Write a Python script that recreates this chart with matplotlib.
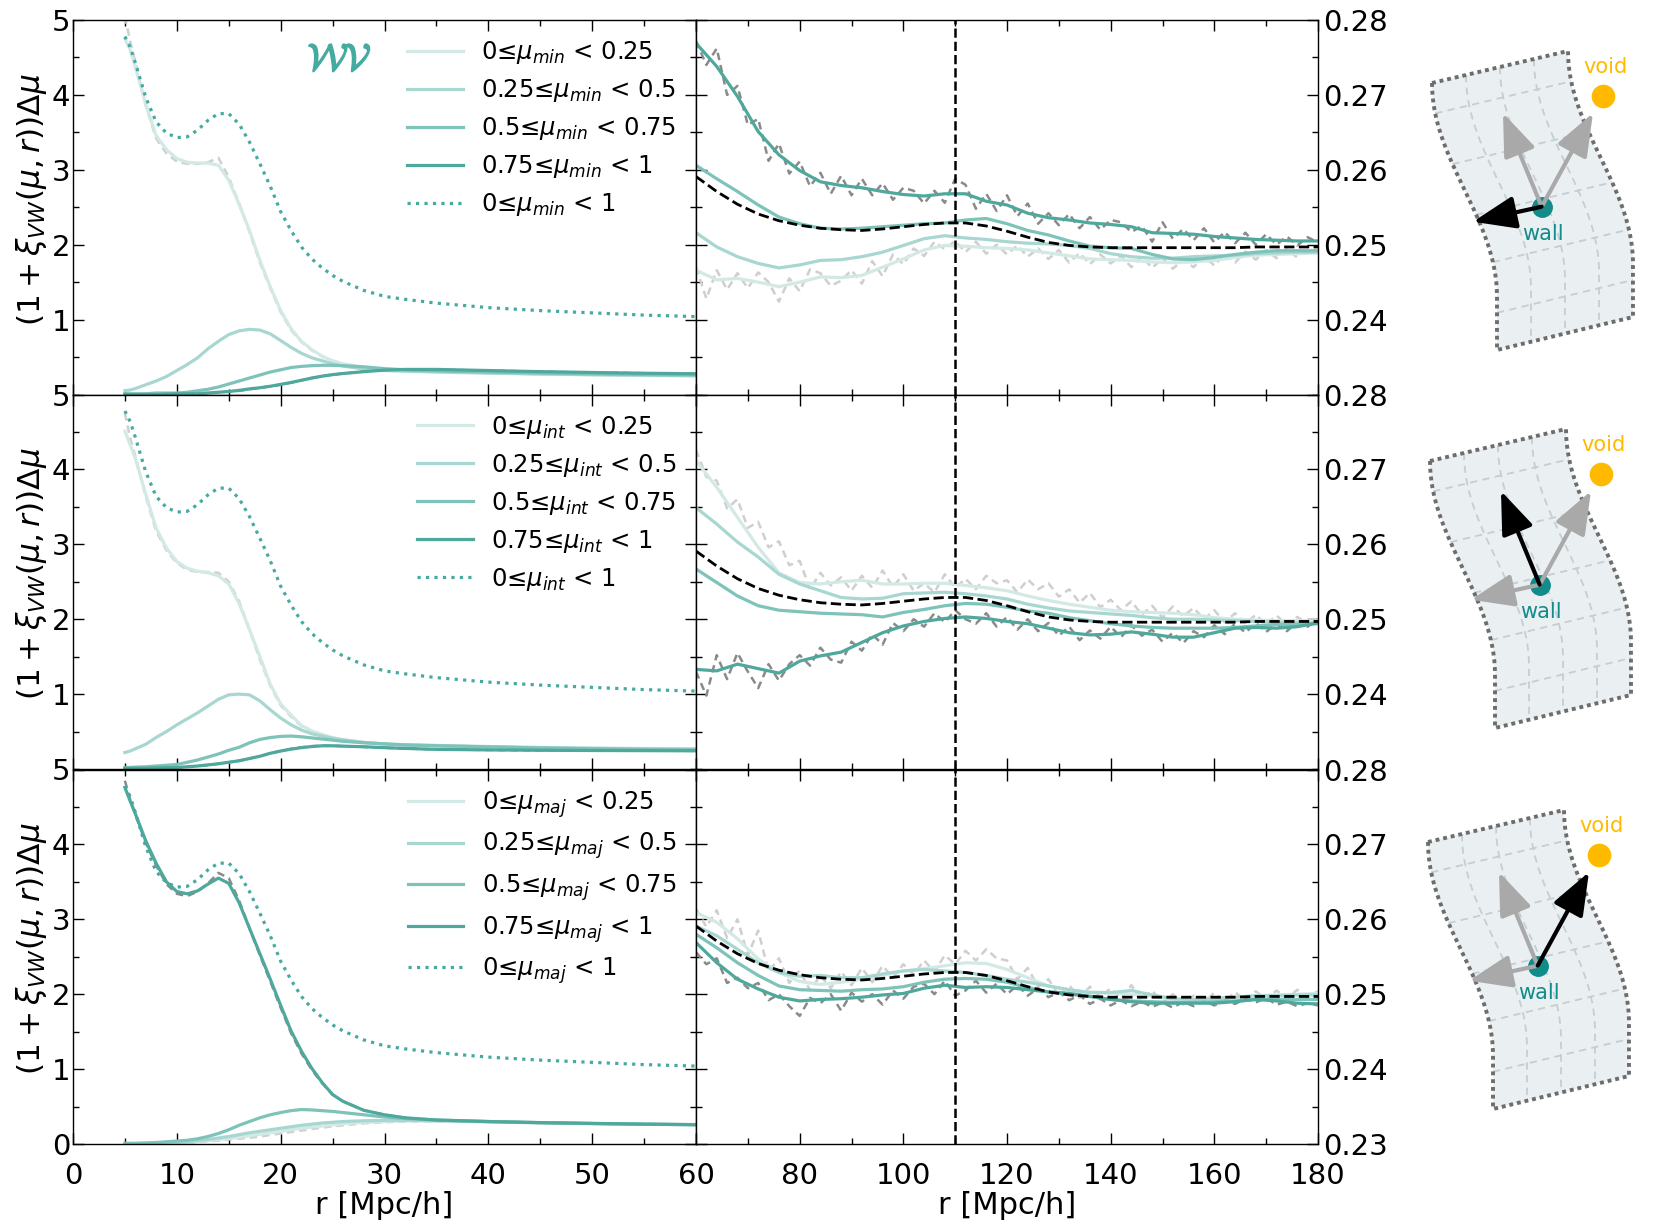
import matplotlib.pyplot as plt
import matplotlib.patheffects as pe
import numpy as np
from matplotlib.ticker import MultipleLocator, FormatStrFormatter

plt.rcParams['font.family'] = ['DejaVu Sans']
plt.rcParams['mathtext.fontset'] = 'dejavusans'

# ---------------- data ----------------
tags = ['min', 'int', 'maj']
bin_edges = ['0.25', '0.5', '0.75', '1']

r_left = [5, 5.5, 6, 7, 8, 9, 10, 11, 12, 13, 14, 15, 16, 17, 18, 19, 20, 21, 22, 23,
          24, 25, 26, 28, 30, 32, 35, 40, 45, 50, 55, 60]
r_right = list(range(60, 181, 4))
r_raw = list(range(60, 181, 2))

# total 0<=mu<1 (same in the three rows)
total_left = [4.78, 4.64, 4.43,
              3.97, 3.64, 3.49, 3.43, 3.44, 3.53, 3.66, 3.75, 3.75, 3.61,
              3.37, 3.08, 2.78, 2.44, 2.19, 1.97, 1.81, 1.69, 1.59, 1.51,
              1.39, 1.31, 1.27, 1.22, 1.16, 1.12, 1.09, 1.06, 1.04]
mean_right = [0.2591, 0.2571, 0.2554, 0.2541, 0.2532, 0.2526, 0.2522, 0.2520, 0.2519, 0.2521,
              0.2524, 0.2527, 0.2529, 0.2529, 0.2525, 0.2518, 0.2510, 0.2503, 0.2499, 0.2497,
              0.2496, 0.2496, 0.2496, 0.2496, 0.2496, 0.2496, 0.2496, 0.2497, 0.2497, 0.2497,
              0.2497]

# --- mu_min ---
min_l1 = [4.75, 4.60, 4.37,
          3.88, 3.46, 3.27, 3.15, 3.10, 3.09, 3.09, 3.06, 2.86, 2.54,
          2.19, 1.79, 1.44, 1.12, 0.88, 0.71, 0.60, 0.51, 0.45, 0.41,
          0.36, 0.33, 0.32, 0.31, 0.29, 0.275, 0.263, 0.254, 0.247]
min_l1_raw = [5.05, 4.72, 4.44,
              3.86, 3.42, 3.22, 3.11, 3.08, 3.08, 3.10, 3.16, 2.90, 2.55,
              2.17, 1.76, 1.42, 1.10, 0.86, 0.70, 0.59, 0.51, 0.45, 0.41,
              0.36, 0.33, 0.32, 0.31, 0.29, 0.274, 0.264, 0.253, 0.247]
min_l2 = [0.05, 0.06, 0.08,
          0.13, 0.18, 0.24, 0.32, 0.40, 0.49, 0.61, 0.71, 0.80, 0.85,
          0.87, 0.86, 0.81, 0.72, 0.63, 0.55, 0.49, 0.45, 0.41, 0.38,
          0.34, 0.32, 0.31, 0.30, 0.285, 0.273, 0.264, 0.257, 0.252]
min_l3 = [0.01, 0.01, 0.01,
          0.01, 0.02, 0.02, 0.02, 0.03, 0.05, 0.07, 0.10, 0.14, 0.18,
          0.22, 0.26, 0.30, 0.33, 0.36, 0.375, 0.385, 0.39, 0.39, 0.385,
          0.37, 0.345, 0.33, 0.315, 0.30, 0.286, 0.275, 0.267, 0.261]
min_l4 = [0.0, 0.0, 0.0,
          0.0, 0.0, 0.005, 0.01, 0.01, 0.01, 0.02, 0.03, 0.04, 0.055,
          0.075, 0.09, 0.11, 0.135, 0.16, 0.19, 0.22, 0.245, 0.265, 0.28,
          0.305, 0.325, 0.335, 0.335, 0.32, 0.305, 0.294, 0.284, 0.277]
min_l4_raw = [0.0, 0.0, 0.0,
              0.0, 0.0, 0.005, 0.01, 0.01, 0.015, 0.02, 0.03, 0.04, 0.05,
              0.07, 0.09, 0.11, 0.13, 0.16, 0.19, 0.22, 0.245, 0.265, 0.28,
              0.31, 0.33, 0.335, 0.33, 0.32, 0.305, 0.294, 0.284, 0.276]
min_r1 = [0.2466, 0.2453, 0.2455, 0.2450, 0.2444, 0.2450, 0.2457, 0.2456, 0.2459, 0.2470,
          0.2481, 0.2493, 0.2499, 0.2498, 0.2496, 0.2495, 0.2493, 0.2489, 0.2485, 0.2481,
          0.2480, 0.2479, 0.2477, 0.2476, 0.2477, 0.2479, 0.2483, 0.2486, 0.2487, 0.2488,
          0.2489]
min_r2 = [0.2516, 0.2497, 0.2484, 0.2475, 0.2469, 0.2473, 0.2479, 0.2480, 0.2484, 0.2490,
          0.2499, 0.2508, 0.2512, 0.2509, 0.2507, 0.2504, 0.2502, 0.2501, 0.2499, 0.2495,
          0.2488, 0.2484, 0.2482, 0.2482, 0.2484, 0.2485, 0.2486, 0.2488, 0.2489, 0.2490,
          0.2490]
min_r3 = [0.2606, 0.2588, 0.2571, 0.2553, 0.2537, 0.2528, 0.2522, 0.2521, 0.2522, 0.2524,
          0.2526, 0.2528, 0.2529, 0.2533, 0.2535, 0.2528, 0.2519, 0.2513, 0.2505, 0.2498,
          0.2496, 0.2495, 0.2487, 0.2481, 0.2480, 0.2483, 0.2487, 0.2490, 0.2492, 0.2492,
          0.2492]
min_r4 = [0.2769, 0.2738, 0.2698, 0.2651, 0.2620, 0.2599, 0.2584, 0.2579, 0.2576, 0.2571,
          0.2567, 0.2565, 0.2568, 0.2568, 0.2558, 0.2553, 0.2542, 0.2536, 0.2533, 0.2529,
          0.2527, 0.2524, 0.2516, 0.2515, 0.2514, 0.2511, 0.2509, 0.2507, 0.2506, 0.2505,
          0.2505]
min_r1_raw = [0.2470, 0.2428, 0.2466, 0.2440, 0.2462, 0.2442, 0.2463, 0.2450, 0.2424, 0.2455,
              0.2438, 0.2467, 0.2462, 0.2445, 0.2452, 0.2466, 0.2448, 0.2478, 0.2458, 0.2487,
              0.2474, 0.2495, 0.2485, 0.2504, 0.2494, 0.2505, 0.2490, 0.2504, 0.2488, 0.2500,
              0.2487, 0.2499, 0.2484, 0.2495, 0.2481, 0.2493, 0.2476, 0.2489, 0.2474, 0.2487,
              0.2475, 0.2485, 0.2470, 0.2484, 0.2469, 0.2482, 0.2468, 0.2480, 0.2470, 0.2485,
              0.2472, 0.2488, 0.2476, 0.2491, 0.2480, 0.2493, 0.2482, 0.2494, 0.2483, 0.2495,
              0.2490]
min_r4_raw = [0.2772, 0.2740, 0.2762, 0.2700, 0.2712, 0.2660, 0.2668, 0.2612, 0.2635, 0.2595,
              0.2611, 0.2578, 0.2596, 0.2568, 0.2592, 0.2566, 0.2588, 0.2566, 0.2582, 0.2560,
              0.2576, 0.2572, 0.2555, 0.2572, 0.2556, 0.2588, 0.2580, 0.2548, 0.2568, 0.2545,
              0.2566, 0.2538, 0.2555, 0.2528, 0.2542, 0.2526, 0.2541, 0.2522, 0.2537, 0.2520,
              0.2533, 0.2530, 0.2517, 0.2525, 0.2504, 0.2530, 0.2508, 0.2521, 0.2506, 0.2522,
              0.2503, 0.2517, 0.2502, 0.2516, 0.2500, 0.2514, 0.2500, 0.2511, 0.2499, 0.2510,
              0.2503]

# --- mu_int ---
int_l1 = [4.51, 4.33, 4.15,
          3.67, 3.22, 2.95, 2.77, 2.68, 2.64, 2.62, 2.58, 2.47, 2.21,
          1.86, 1.50, 1.13, 0.87, 0.72, 0.58, 0.51, 0.46, 0.42, 0.39,
          0.355, 0.335, 0.32, 0.31, 0.295, 0.285, 0.278, 0.274, 0.271]
int_l1_raw = [4.75, 4.42, 4.18,
              3.64, 3.18, 2.92, 2.75, 2.66, 2.63, 2.63, 2.62, 2.50, 2.24,
              1.86, 1.46, 1.11, 0.85, 0.70, 0.57, 0.50, 0.45, 0.42, 0.39,
              0.355, 0.335, 0.32, 0.31, 0.295, 0.285, 0.278, 0.274, 0.271]
int_l2 = [0.22, 0.24, 0.27,
          0.33, 0.42, 0.50, 0.59, 0.67, 0.75, 0.84, 0.93, 0.99, 1.00,
          0.99, 0.91, 0.79, 0.68, 0.59, 0.52, 0.47, 0.44, 0.41, 0.39,
          0.355, 0.335, 0.325, 0.315, 0.30, 0.287, 0.277, 0.27, 0.265]
int_l3 = [0.02, 0.02, 0.025,
          0.03, 0.04, 0.05, 0.06, 0.09, 0.12, 0.16, 0.20, 0.25, 0.29,
          0.35, 0.395, 0.42, 0.435, 0.44, 0.43, 0.415, 0.40, 0.385, 0.37,
          0.35, 0.335, 0.32, 0.31, 0.295, 0.28, 0.27, 0.262, 0.257]
int_l4 = [0.01, 0.01, 0.01,
          0.01, 0.015, 0.02, 0.02, 0.03, 0.04, 0.055, 0.07, 0.09, 0.11,
          0.14, 0.17, 0.21, 0.24, 0.265, 0.285, 0.30, 0.31, 0.31, 0.305,
          0.297, 0.285, 0.275, 0.262, 0.255, 0.25, 0.247, 0.245, 0.243]
int_l4_raw = [0.01, 0.01, 0.01,
              0.01, 0.015, 0.02, 0.02, 0.03, 0.04, 0.05, 0.07, 0.09, 0.11,
              0.14, 0.17, 0.21, 0.24, 0.27, 0.29, 0.305, 0.31, 0.31, 0.305,
              0.295, 0.283, 0.273, 0.262, 0.254, 0.249, 0.246, 0.244, 0.242]
int_r1 = [0.2712, 0.2676, 0.2636, 0.2596, 0.2562, 0.2549, 0.2547, 0.2550, 0.2552, 0.2547,
          0.2547, 0.2548, 0.2548, 0.2545, 0.2542, 0.2538, 0.2531, 0.2525, 0.2520, 0.2516,
          0.2512, 0.2510, 0.2509, 0.2508, 0.2506, 0.2502, 0.2500, 0.2499, 0.2498, 0.2498,
          0.2498]
int_r2 = [0.2649, 0.2627, 0.2603, 0.2583, 0.2560, 0.2547, 0.2538, 0.2529, 0.2527, 0.2528,
          0.2534, 0.2535, 0.2536, 0.2534, 0.2531, 0.2527, 0.2520, 0.2515, 0.2511, 0.2509,
          0.2507, 0.2505, 0.2502, 0.2500, 0.2500, 0.2499, 0.2498, 0.2497, 0.2496, 0.2495,
          0.2495]
int_r3 = [0.2567, 0.2549, 0.2531, 0.2518, 0.2512, 0.2510, 0.2508, 0.2507, 0.2506, 0.2503,
          0.2509, 0.2513, 0.2518, 0.2521, 0.2520, 0.2516, 0.2511, 0.2508, 0.2502, 0.2498,
          0.2494, 0.2491, 0.2489, 0.2488, 0.2488, 0.2488, 0.2489, 0.2491, 0.2493, 0.2493,
          0.2494]
int_r4 = [0.2433, 0.2431, 0.2440, 0.2434, 0.2428, 0.2444, 0.2451, 0.2456, 0.2469, 0.2482,
          0.2491, 0.2497, 0.2501, 0.2503, 0.2501, 0.2497, 0.2494, 0.2488, 0.2482, 0.2479,
          0.2480, 0.2483, 0.2480, 0.2476, 0.2476, 0.2482, 0.2488, 0.2489, 0.2488, 0.2490,
          0.2495]
int_r1_raw = [0.2726, 0.2690, 0.2685, 0.2648, 0.2660, 0.2622, 0.2630, 0.2596, 0.2604, 0.2572,
              0.2578, 0.2540, 0.2562, 0.2545, 0.2556, 0.2538, 0.2558, 0.2542, 0.2565, 0.2543,
              0.2560, 0.2538, 0.2548, 0.2536, 0.2560, 0.2542, 0.2554, 0.2540, 0.2558, 0.2548,
              0.2552, 0.2536, 0.2553, 0.2540, 0.2548, 0.2530, 0.2540, 0.2522, 0.2535, 0.2516,
              0.2526, 0.2512, 0.2524, 0.2506, 0.2518, 0.2502, 0.2517, 0.2504, 0.2515, 0.2500,
              0.2512, 0.2496, 0.2508, 0.2494, 0.2506, 0.2493, 0.2505, 0.2492, 0.2503, 0.2494,
              0.2500]
int_r4_raw = [0.2430, 0.2398, 0.2452, 0.2420, 0.2455, 0.2430, 0.2408, 0.2440, 0.2418, 0.2440,
              0.2452, 0.2438, 0.2462, 0.2446, 0.2442, 0.2470, 0.2458, 0.2480, 0.2466, 0.2495,
              0.2484, 0.2500, 0.2490, 0.2508, 0.2496, 0.2512, 0.2500, 0.2494, 0.2508, 0.2490,
              0.2503, 0.2486, 0.2500, 0.2484, 0.2495, 0.2478, 0.2490, 0.2472, 0.2485, 0.2474,
              0.2490, 0.2476, 0.2492, 0.2478, 0.2486, 0.2470, 0.2482, 0.2468, 0.2484, 0.2476,
              0.2492, 0.2480, 0.2494, 0.2482, 0.2495, 0.2483, 0.2494, 0.2484, 0.2496, 0.2490,
              0.2500]

# --- mu_maj ---
maj_l1 = [0.0, 0.0, 0.0,
          0.0, 0.005, 0.01, 0.015, 0.02, 0.035, 0.045, 0.06, 0.075, 0.09,
          0.11, 0.13, 0.15, 0.17, 0.19, 0.21, 0.225, 0.24, 0.255, 0.27,
          0.29, 0.30, 0.31, 0.31, 0.30, 0.287, 0.276, 0.267, 0.261]
maj_l1_raw = [0.0, 0.0, 0.0,
              0.0, 0.0, 0.005, 0.01, 0.015, 0.025, 0.035, 0.045, 0.06, 0.07,
              0.085, 0.10, 0.12, 0.14, 0.16, 0.18, 0.20, 0.22, 0.235, 0.25,
              0.275, 0.29, 0.30, 0.305, 0.30, 0.288, 0.277, 0.268, 0.261]
maj_l2 = [0.0, 0.0, 0.0,
          0.005, 0.01, 0.015, 0.02, 0.03, 0.045, 0.06, 0.08, 0.10, 0.125,
          0.15, 0.17, 0.19, 0.21, 0.23, 0.25, 0.265, 0.28, 0.29, 0.30,
          0.31, 0.315, 0.315, 0.31, 0.295, 0.282, 0.272, 0.264, 0.259]
maj_l3 = [0.01, 0.01, 0.01,
          0.015, 0.02, 0.03, 0.04, 0.05, 0.07, 0.10, 0.14, 0.19, 0.25,
          0.30, 0.35, 0.39, 0.42, 0.445, 0.46, 0.455, 0.445, 0.435, 0.42,
          0.39, 0.36, 0.34, 0.32, 0.30, 0.285, 0.273, 0.264, 0.258]
maj_l4 = [4.76, 4.58, 4.41,
          4.05, 3.75, 3.50, 3.37, 3.34, 3.38, 3.47, 3.55, 3.48, 3.22,
          2.88, 2.54, 2.20, 1.85, 1.51, 1.24, 1.01, 0.82, 0.66, 0.57,
          0.45, 0.39, 0.35, 0.32, 0.30, 0.285, 0.275, 0.265, 0.257]
maj_l4_raw = [4.85, 4.60, 4.40,
              4.02, 3.72, 3.47, 3.34, 3.31, 3.37, 3.48, 3.62, 3.55, 3.25,
              2.88, 2.52, 2.17, 1.82, 1.48, 1.21, 0.99, 0.81, 0.66, 0.57,
              0.45, 0.39, 0.35, 0.32, 0.30, 0.285, 0.274, 0.264, 0.256]
maj_r1 = [0.2609, 0.2596, 0.2574, 0.2547, 0.2529, 0.2517, 0.2513, 0.2516, 0.2520, 0.2525,
          0.2531, 0.2534, 0.2538, 0.2542, 0.2541, 0.2533, 0.2522, 0.2511, 0.2505, 0.2503,
          0.2502, 0.2500, 0.2497, 0.2493, 0.2493, 0.2495, 0.2496, 0.2498, 0.2499, 0.2500,
          0.2501]
maj_r2 = [0.2591, 0.2578, 0.2560, 0.2542, 0.2529, 0.2524, 0.2525, 0.2522, 0.2522, 0.2527,
          0.2531, 0.2533, 0.2531, 0.2529, 0.2525, 0.2520, 0.2516, 0.2511, 0.2506, 0.2502,
          0.2502, 0.2505, 0.2499, 0.2494, 0.2493, 0.2494, 0.2496, 0.2498, 0.2498, 0.2499,
          0.2499]
maj_r3 = [0.2580, 0.2562, 0.2542, 0.2525, 0.2511, 0.2506, 0.2505, 0.2504, 0.2506, 0.2507,
          0.2510, 0.2516, 0.2520, 0.2521, 0.2520, 0.2516, 0.2509, 0.2503, 0.2500, 0.2497,
          0.2493, 0.2491, 0.2490, 0.2489, 0.2489, 0.2490, 0.2491, 0.2493, 0.2493, 0.2493,
          0.2493]
maj_r4 = [0.2569, 0.2542, 0.2520, 0.2507, 0.2496, 0.2491, 0.2493, 0.2494, 0.2496, 0.2499,
          0.2501, 0.2508, 0.2512, 0.2509, 0.2510, 0.2509, 0.2506, 0.2503, 0.2501, 0.2497,
          0.2493, 0.2490, 0.2488, 0.2488, 0.2488, 0.2488, 0.2490, 0.2493, 0.2491, 0.2488,
          0.2487]
maj_r1_raw = [0.2614, 0.2590, 0.2612, 0.2575, 0.2600, 0.2552, 0.2585, 0.2530, 0.2548, 0.2515,
              0.2532, 0.2505, 0.2525, 0.2508, 0.2530, 0.2512, 0.2535, 0.2516, 0.2538, 0.2522,
              0.2540, 0.2526, 0.2545, 0.2530, 0.2552, 0.2540, 0.2558, 0.2545, 0.2560, 0.2548,
              0.2545, 0.2520, 0.2535, 0.2510, 0.2520, 0.2498, 0.2512, 0.2495, 0.2510, 0.2496,
              0.2508, 0.2494, 0.2512, 0.2492, 0.2505, 0.2488, 0.2500, 0.2486, 0.2498, 0.2489,
              0.2502, 0.2490, 0.2503, 0.2491, 0.2504, 0.2493, 0.2505, 0.2494, 0.2506, 0.2496,
              0.2504]
maj_r4_raw = [0.2556, 0.2540, 0.2548, 0.2515, 0.2522, 0.2508, 0.2515, 0.2492, 0.2500, 0.2484,
              0.2471, 0.2495, 0.2488, 0.2500, 0.2478, 0.2502, 0.2490, 0.2500, 0.2486, 0.2505,
              0.2494, 0.2510, 0.2514, 0.2500, 0.2518, 0.2498, 0.2505, 0.2518, 0.2502, 0.2514,
              0.2500, 0.2512, 0.2498, 0.2508, 0.2496, 0.2503, 0.2492, 0.2499, 0.2487, 0.2494,
              0.2485, 0.2492, 0.2484, 0.2490, 0.2483, 0.2489, 0.2482, 0.2490, 0.2484, 0.2491,
              0.2485, 0.2492, 0.2487, 0.2494, 0.2489, 0.2495, 0.2486, 0.2490, 0.2484, 0.2488,
              0.2485]

# ---------------- style ----------------
c_bins = ['#d2e9e6', '#a8d6d0', '#7ec3b9', '#4fa89c']
c_tot = '#45aaa0'
c_raw_light = '#cfcfcf'
c_raw_dark = '#8a8a8a'
c_teal = '#128b8b'
c_void = '#ffba00'

W, H = 1661, 1230
fig = plt.figure(figsize=(W / 100, H / 100), dpi=100)

x0, x1, x2 = 73 / W, 696 / W, 1318 / W
row_top = [20, 394.5, 769.5]
row_h = 374.5


def style_axes(ax):
    for s in ax.spines.values():
        s.set_linewidth(1.0)
    ax.tick_params(which='both', direction='in', top=True, bottom=True,
                   left=True, right=True, width=1.0, labelsize=21)
    ax.tick_params(which='major', length=8)
    ax.tick_params(which='minor', length=4)


rows = [
    ('min', [min_l1, min_l2, min_l3, min_l4], min_l1_raw, min_l4_raw,
     [min_r1, min_r2, min_r3, min_r4], min_r1_raw, min_r4_raw),
    ('int', [int_l1, int_l2, int_l3, int_l4], int_l1_raw, int_l4_raw,
     [int_r1, int_r2, int_r3, int_r4], int_r1_raw, int_r4_raw),
    ('maj', [maj_l1, maj_l2, maj_l3, maj_l4], maj_l1_raw, maj_l4_raw,
     [maj_r1, maj_r2, maj_r3, maj_r4], maj_r1_raw, maj_r4_raw),
]

for i, (tag, lbins, lraw1, lraw4, rbins, rraw1, rraw4) in enumerate(rows):
    bottom = 1 - (row_top[i] + row_h) / H
    axl = fig.add_axes([x0, bottom, x1 - x0, row_h / H])
    axr = fig.add_axes([x1, bottom, x2 - x1, row_h / H])
    last = i == len(rows) - 1

    # left panel
    axl.plot(r_left, lraw1, color=c_raw_light, lw=1.8, dashes=(3, 2))
    axl.plot(r_left, lraw4, color=c_raw_dark, lw=1.8, dashes=(3, 2))
    lo = '0'
    for k, vals in enumerate(lbins):
        axl.plot(r_left, vals, color=c_bins[k], lw=2.3,
                 label='%s≤$\\mu_{%s}$ < %s' % (lo, tag, bin_edges[k]))
        lo = bin_edges[k]
    axl.plot(r_left, total_left, color=c_tot, lw=2.3, ls=':',
             label='0≤$\\mu_{%s}$ < 1' % tag)
    axl.set_xlim(0, 60)
    axl.set_ylim(0, 5)
    style_axes(axl)
    axl.set_xticks(range(0, 61, 10))
    axl.xaxis.set_minor_locator(MultipleLocator(5))
    axl.set_yticks(range(0 if last else 1, 6))
    axl.yaxis.set_minor_locator(MultipleLocator(0.5))
    axl.tick_params(axis='y', pad=2)
    axl.tick_params(axis='x', pad=13, labelbottom=last)
    axl.legend(loc='upper right', frameon=False, fontsize=17.5, handlelength=2.3,
               handletextpad=0.75, labelspacing=0.45, borderaxespad=0.4)
    if i == 0:
        axl.text(0.428, 0.893, r'$\mathcal{WV}$', transform=axl.transAxes,
                 color=c_tot, fontsize=27, ha='center', va='center',
                 math_fontfamily='cm',
                 path_effects=[pe.withStroke(linewidth=1.2, foreground=c_tot)])

    # right panel
    axr.plot(r_raw, rraw1, color=c_raw_light, lw=1.8, dashes=(3, 2))
    axr.plot(r_raw, rraw4, color=c_raw_dark, lw=1.8, dashes=(3, 2))
    for k, vals in enumerate(rbins):
        axr.plot(r_right, vals, color=c_bins[k], lw=2.3)
    axr.plot(r_right, mean_right, color='k', lw=2.0, ls='--')
    axr.axvline(110, color='k', lw=1.8, ls='--')
    axr.set_xlim(60, 180)
    axr.set_ylim(0.23, 0.28)
    style_axes(axr)
    axr.set_xticks(range(60, 181, 20))
    axr.set_xticklabels([''] + [str(v) for v in range(80, 181, 20)])
    axr.xaxis.set_minor_locator(MultipleLocator(10))
    axr.set_yticks([0.23, 0.24, 0.25, 0.26, 0.27, 0.28][0 if last else 1:])
    axr.yaxis.set_major_formatter(FormatStrFormatter('%.2f'))
    axr.yaxis.set_minor_locator(MultipleLocator(0.005))
    axr.tick_params(axis='y', labelleft=False, labelright=True, pad=4)
    axr.tick_params(axis='x', pad=13, labelbottom=last)

    if last:
        axl.set_xlabel('r [Mpc/h]', fontsize=22, labelpad=1)
        axr.set_xlabel('r [Mpc/h]', fontsize=22, labelpad=1)

    yc = 1 - (row_top[i] + row_h / 2 - 8) / H
    fig.text(32 / W, yc, r'$(1 + \xi_{VW}(\mu, r))\Delta\mu$', rotation=90,
             ha='center', va='center', fontsize=22.5)

# ---------------- schematic walls ----------------
ax_s = fig.add_axes([0.8, 0.0, 0.2, 1.0])
ax_s.set_xlim(0.8 * W, W)
ax_s.set_ylim(H, 0)
ax_s.axis('off')


def draw_wall(ax, ox, oy, highlight):
    t = np.linspace(0, 1, 80)
    bend = 65 * np.sin(0.5 * np.pi * np.clip(t / 0.8, 0, 1)) ** 2
    lx, ly = ox + 1432 + bend, oy + 83 + 267 * t
    rx, ry = ox + 1568 + bend, oy + 51 + 266 * t
    px = np.concatenate([lx, rx[::-1]])
    py = np.concatenate([ly, ry[::-1]])
    ax.fill(px, py, color='#eaeff1', lw=0, zorder=1)
    for s in (0.25, 0.5, 0.75):
        ax.plot((1 - s) * lx + s * rx, (1 - s) * ly + s * ry, color='#c3cfd3',
                lw=1.3, dashes=(4, 3), zorder=2)
    for tk in (0.12, 0.305, 0.49, 0.675, 0.86):
        j = int(round(tk * (len(t) - 1)))
        ax.plot([lx[j], rx[j]], [ly[j], ry[j]], color='#c3cfd3', lw=1.3,
                dashes=(4, 3), zorder=2)
    ax.plot(np.append(px, px[0]), np.append(py, py[0]), color='#6d6d6d', lw=2.8,
            dashes=(1, 1), zorder=3)

    wall = (1541.7 + ox, 206.7 + oy)
    void = (1603 + ox, 96 + oy)
    ax.plot(*wall, 'o', ms=14, color=c_teal, zorder=4)
    ax.plot(*void, 'o', ms=16, color=c_void, zorder=4)
    ax.text(wall[0] + 1, wall[1] + 27, 'wall', color=c_teal, fontsize=15,
            ha='center', va='center', zorder=6)
    ax.text(void[0] + 3, void[1] - 29, 'void', color=c_void, fontsize=15,
            ha='center', va='center', zorder=6)
    tips = [(1473 + ox, 221.7 + oy), (1503 + ox, 113 + oy), (1593 + ox, 113 + oy)]
    order = [k for k in range(3) if k != highlight] + [highlight]
    for k in order:
        col = 'k' if k == highlight else '#a9a9a9'
        ax.annotate('', xy=tips[k], xytext=wall, xycoords='data',
                    arrowprops=dict(arrowstyle='-|>,head_length=1.1,head_width=0.42',
                                    mutation_scale=24, lw=3, color=col,
                                    shrinkA=0, shrinkB=0), zorder=5)


draw_wall(ax_s, 0, 0, 0)
draw_wall(ax_s, -2, 378, 1)
draw_wall(ax_s, -4, 759, 2)

fig.savefig('out.png', dpi=100)
